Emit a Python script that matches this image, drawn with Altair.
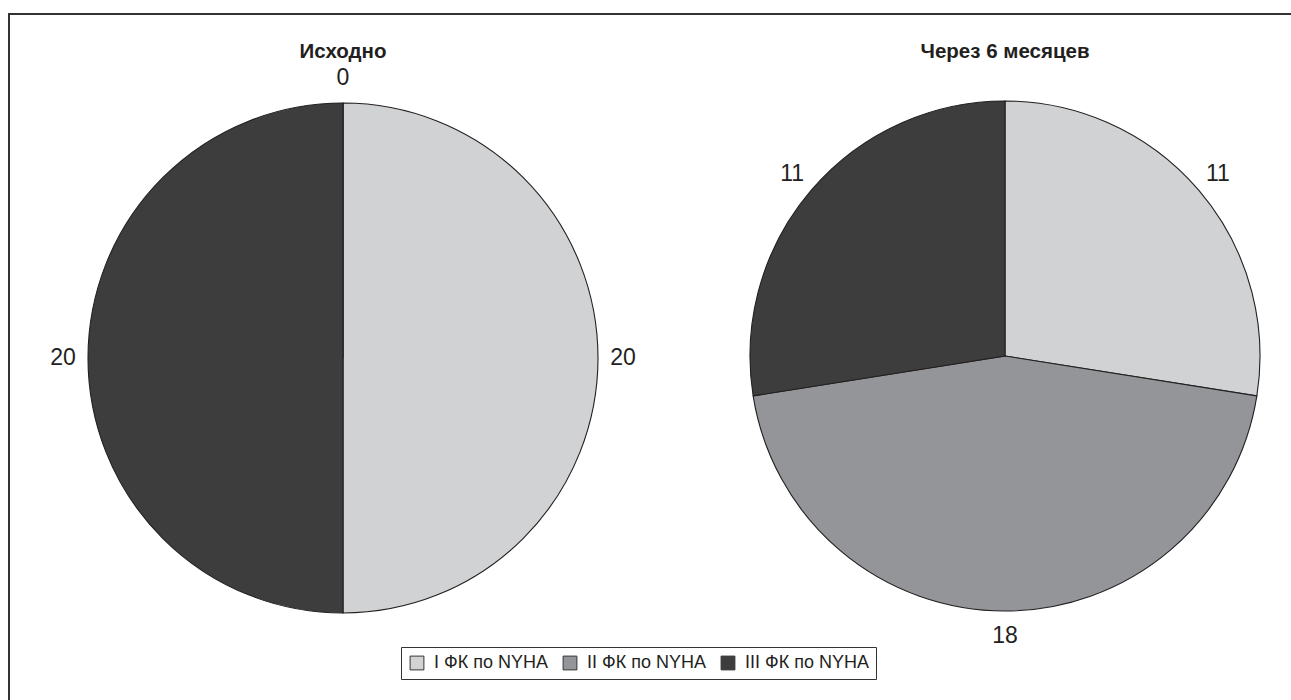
import altair as alt
import pandas as pd

# ---- data ----
classes = ["I ФК по NYHA", "II ФК по NYHA", "III ФК по NYHA"]
baseline_counts = [20, 0, 20]
month6_counts = [11, 18, 11]
panel_titles = ["Исходно", "Через 6 месяцев"]
colors = ["#d1d2d4", "#939598", "#3d3d3d"]

df = pd.DataFrame({
    "panel": [panel_titles[0]] * 3 + [panel_titles[1]] * 3,
    "class": classes * 2,
    "count": baseline_counts + month6_counts,
})

# ---- layout ----
W, H = 1291, 700
R = 255
LABEL_R = 280
FONT = "Liberation Sans"
INK = "#231f20"
centers = [(343, 358), (1005, 356)]

color = alt.Color(
    "class:N",
    scale=alt.Scale(domain=classes, range=colors),
    legend=alt.Legend(
        title=None, orient="none", direction="horizontal",
        legendX=401, legendY=647, padding=7,
        strokeColor="#333333", fillColor="white",
        symbolType="square", symbolSize=190,
        symbolStrokeColor="#333333", symbolStrokeWidth=1,
        symbolOpacity=1,
        labelFont=FONT, labelFontSize=18, labelColor=INK,
        labelOffset=8, columnPadding=13,
    ),
)

frame = alt.Chart(pd.DataFrame({"k": [0]})).mark_rect(
    fillOpacity=0, stroke="#333333", strokeWidth=2
).encode(
    x=alt.value(9), y=alt.value(14), x2=alt.value(W + 50), y2=alt.value(H + 50)
)

layers = [frame]
for i, p in enumerate(panel_titles):
    cx, cy = centers[i]
    base = alt.Chart(df).transform_filter(alt.datum.panel == p)
    order = alt.Order("count:Q", sort="descending") if i == 0 else alt.Order("class:N", sort="ascending")
    arc = base.mark_arc(outerRadius=R, stroke=INK, strokeWidth=1.1).encode(
        theta=alt.Theta("count:Q", stack=True),
        color=color,
        order=order,
        x=alt.value(cx),
        y=alt.value(cy),
    )
    lab = base.mark_text(
        radius=LABEL_R, font=FONT, fontSize=23, color=INK,
        align="center", baseline="middle"
    ).encode(
        theta=alt.Theta("count:Q", stack=True),
        text=alt.Text("count:Q"),
        order=order,
        x=alt.value(cx),
        y=alt.value(cy),
    )
    title = alt.Chart(pd.DataFrame({"t": [p]})).mark_text(
        font=FONT, fontSize=20.5, fontWeight="bold", color=INK,
        align="center", baseline="middle"
    ).encode(
        text="t:N", x=alt.value(cx), y=alt.value(52)
    )
    layers += [arc, lab, title]

chart = alt.layer(*layers).resolve_scale(theta="independent").properties(
    width=W, height=H, padding=0, autosize="none", background="white"
).configure_view(strokeWidth=0)

chart.save("out.html", embed_options={"renderer": "svg", "actions": False})
